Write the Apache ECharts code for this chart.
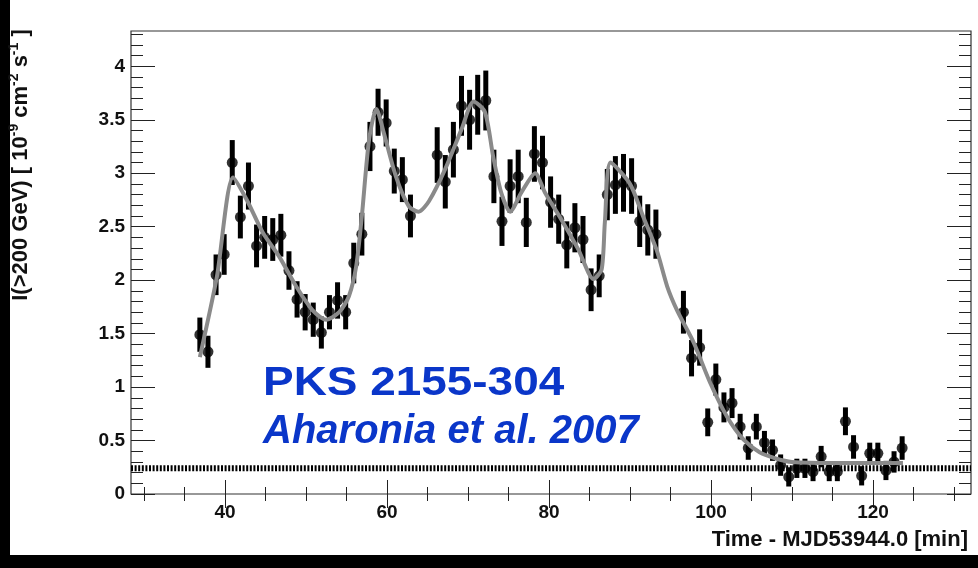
<!DOCTYPE html>
<html>
<head>
<meta charset="utf-8">
<script src="https://cdn.jsdelivr.net/npm/echarts@6/dist/echarts.min.js"></script>
<style>
  html, body { margin: 0; padding: 0; background: #000; }
  #panel { position: absolute; left: 10px; top: 0px; width: 968px; height: 555px; background: #fff; }
  #chart { position: absolute; left: 0; top: 0; width: 978px; height: 568px; }
</style>
</head>
<body>
<div id="panel"></div>
<div id="chart"></div>
<script>
// ---- data ----
const timeMin = [
  36.9, 37.9, 38.9, 39.9, 40.9, 41.9, 42.9, 43.9, 44.9, 45.9, 46.9, 47.9, 48.9, 49.9,
  50.9, 51.9, 52.9, 53.9, 54.9, 55.9, 56.9, 57.9, 58.9, 59.9, 60.9, 61.9, 62.9,
  66.2, 67.2, 68.2, 69.2, 70.2, 71.2, 72.2, 73.2, 74.2, 75.2, 76.2, 77.2, 78.2, 79.2,
  80.2, 81.2, 82.2, 83.2, 84.2, 85.2, 86.2, 87.2, 88.2, 89.2, 90.2, 91.2, 92.2, 93.2,
  96.6, 97.6, 98.6, 99.6, 100.6, 101.6, 102.6, 103.6, 104.6, 105.6, 106.6, 107.6, 108.6, 109.6,
  110.6, 111.6, 112.6, 113.6, 114.6, 115.6, 116.6, 117.6, 118.6, 119.6, 120.6, 121.6, 122.6, 123.6
];
const flux = [
  1.49, 1.33, 2.05, 2.24, 3.10, 2.59, 2.88, 2.32, 2.40, 2.38, 2.42, 2.09, 1.82, 1.70,
  1.63, 1.51, 1.70, 1.81, 1.70, 2.16, 2.43, 3.25, 3.57, 3.47, 3.02, 2.94, 2.60,
  3.17, 2.92, 3.22, 3.63, 3.50, 3.64, 3.68, 2.97, 2.55, 2.88, 2.97, 2.54, 3.18, 3.10,
  2.73, 2.57, 2.33, 2.49, 2.38, 1.91, 2.04, 2.80, 2.89, 2.91, 2.88, 2.55, 2.47, 2.43,
  1.70, 1.27, 1.37, 0.67, 1.07, 0.81, 0.85, 0.63, 0.43, 0.63, 0.48, 0.41, 0.27, 0.16,
  0.24, 0.24, 0.21, 0.35, 0.21, 0.21, 0.68, 0.44, 0.17, 0.38, 0.38, 0.22, 0.30, 0.43
];
const fluxErr = [
  0.16, 0.15, 0.19, 0.19, 0.21, 0.20, 0.22, 0.20, 0.20, 0.20, 0.20, 0.18, 0.17, 0.17,
  0.16, 0.15, 0.16, 0.17, 0.16, 0.19, 0.20, 0.23, 0.22, 0.22, 0.21, 0.21, 0.20,
  0.26, 0.25, 0.26, 0.28, 0.28, 0.28, 0.28, 0.25, 0.23, 0.25, 0.25, 0.23, 0.26, 0.25,
  0.24, 0.23, 0.22, 0.23, 0.22, 0.20, 0.20, 0.24, 0.27, 0.27, 0.26, 0.24, 0.24, 0.23,
  0.20, 0.17, 0.17, 0.13, 0.15, 0.14, 0.14, 0.12, 0.11, 0.12, 0.11, 0.10, 0.10, 0.09,
  0.09, 0.09, 0.09, 0.10, 0.09, 0.09, 0.13, 0.11, 0.09, 0.10, 0.10, 0.09, 0.10, 0.11
];
const fitTime = [
  36.9, 39.0, 41.0, 42.7, 44.7, 46.7, 48.8, 50.8, 52.5, 54.1, 55.3, 56.2, 56.9, 57.8,
  58.7, 59.6, 61.1, 62.7, 63.9, 65.2, 67.2, 69.2, 70.7, 72.1, 73.1, 74.1, 75.2, 76.6,
  78.3, 79.5, 81.5, 83.6, 85.5, 86.5, 86.9, 87.6, 90.0, 91.6, 93.3, 94.6, 95.8, 97.9,
  99.9, 102.0, 104.0, 106.0, 108.1, 110.0, 115.0, 123.7
];
const fitFlux = [
  1.28, 2.03, 2.96, 2.75, 2.44, 2.22, 1.94, 1.72, 1.63, 1.70, 1.85, 2.13, 2.60, 3.32,
  3.60, 3.38, 2.97, 2.69, 2.64, 2.74, 3.04, 3.41, 3.67, 3.57, 3.16, 2.82, 2.64, 2.82,
  3.00, 2.82, 2.57, 2.29, 2.01, 2.10, 2.54, 3.10, 2.90, 2.60, 2.28, 1.94, 1.72, 1.41,
  1.04, 0.72, 0.51, 0.39, 0.33, 0.30, 0.29, 0.29
];
const baselineLevel = 0.24;
const xMajorTicks = [40, 60, 80, 100, 120];
const xMinorTicks = [30, 35, 45, 50, 55, 65, 70, 75, 85, 90, 95, 105, 110, 115, 125, 130];
const yMajorTicks = [0, 0.5, 1, 1.5, 2, 2.5, 3, 3.5, 4];
const yMinorTicks = [0.1, 0.2, 0.3, 0.4, 0.6, 0.7, 0.8, 0.9, 1.1, 1.2, 1.3, 1.4, 1.6, 1.7, 1.8, 1.9,
  2.1, 2.2, 2.3, 2.4, 2.6, 2.7, 2.8, 2.9, 3.1, 3.2, 3.3, 3.4, 3.6, 3.7, 3.8, 3.9, 4.1, 4.2, 4.3];
const xMin = 28.4, xMax = 132.1, yMin = 0, yMax = 4.33;

// ---- chart ----
const FONT = '"Liberation Sans", Arial, sans-serif';
const tickColor = '#222';

function xAxisDef(position, ticks, len, withLabels) {
  return {
    type: 'value', min: xMin, max: xMax, position: position,
    axisLine: { show: false }, splitLine: { show: false },
    axisTick: { show: true, inside: true, length: len, customValues: ticks,
                lineStyle: { color: tickColor, width: 1 } },
    axisLabel: withLabels ? {
      show: true, customValues: ticks, margin: 9, color: '#111',
      fontFamily: FONT, fontSize: 19, fontWeight: 'bold'
    } : { show: false }
  };
}
function yAxisDef(position, ticks, len, withLabels) {
  return {
    type: 'value', min: yMin, max: yMax, position: position,
    axisLine: { show: false }, splitLine: { show: false },
    axisTick: { show: true, inside: true, length: len, customValues: ticks,
                lineStyle: { color: tickColor, width: 1 } },
    axisLabel: withLabels ? {
      show: true, customValues: ticks, margin: 6, color: '#111',
      fontFamily: FONT, fontSize: 19, fontWeight: 'bold'
    } : { show: false }
  };
}

const chart = echarts.init(document.getElementById('chart'), null, { renderer: 'canvas' });
chart.setOption({
  animation: false,
  backgroundColor: 'transparent',
  grid: { left: 131, right: 7, top: 31, bottom: 74, show: true,
          borderColor: '#333', borderWidth: 1.2, backgroundColor: '#fff' },
  xAxis: [
    xAxisDef('bottom', xMajorTicks, 14, true),
    xAxisDef('bottom', xMinorTicks, 7, false),
    xAxisDef('top', xMajorTicks, 14, false),
    xAxisDef('top', xMinorTicks, 7, false)
  ],
  yAxis: [
    yAxisDef('left', yMajorTicks, 24, true),
    yAxisDef('left', yMinorTicks, 12, false),
    yAxisDef('right', yMajorTicks, 24, false),
    yAxisDef('right', yMinorTicks, 12, false)
  ],
  series: [
    {
      type: 'line', xAxisIndex: 0, yAxisIndex: 0, z: 2,
      data: [[xMin, baselineLevel], [xMax, baselineLevel]],
      showSymbol: false, silent: true,
      lineStyle: { color: '#000', width: 6, type: [2, 1.6] }
    },
    {
      type: 'custom', xAxisIndex: 0, yAxisIndex: 0, z: 3,
      data: timeMin.map((t, i) => [t, flux[i] - fluxErr[i], flux[i] + fluxErr[i]]),
      renderItem: function (params, api) {
        const lo = api.coord([api.value(0), api.value(1)]);
        const hi = api.coord([api.value(0), api.value(2)]);
        return { type: 'line', shape: { x1: lo[0], y1: lo[1], x2: hi[0], y2: hi[1] },
                 style: { stroke: '#000', lineWidth: 5 } };
      }
    },
    {
      type: 'scatter', xAxisIndex: 0, yAxisIndex: 0, z: 4,
      data: timeMin.map((t, i) => [t, flux[i]]),
      symbol: 'circle', symbolSize: 11,
      itemStyle: { color: '#000' }
    },
    {
      type: 'line', xAxisIndex: 0, yAxisIndex: 0, z: 5,
      data: fitTime.map((t, i) => [t, fitFlux[i]]),
      smooth: 0.25, showSymbol: false,
      lineStyle: { color: '#8a8a8a', width: 4 }
    }
  ],
  graphic: [
    {
      type: 'text', x: 21, y: 165, rotation: Math.PI / 2,
      style: {
        text: '{a|I(>200 GeV) [ 10}{s|-9}{a| cm}{s|-2}{a| s}{s|-1}{a| ]}',
        align: 'center', verticalAlign: 'middle',
        rich: {
          a: { fontFamily: FONT, fontSize: 22, fontWeight: 'bold', fill: '#111', lineHeight: 27 },
          s: { fontFamily: FONT, fontSize: 14, fontWeight: 'bold', fill: '#111', verticalAlign: 'top', lineHeight: 27 }
        }
      }
    },
    {
      type: 'text', x: 968, y: 540,
      style: { text: 'Time - MJD53944.0 [min]', align: 'right', verticalAlign: 'middle',
               fontFamily: FONT, fontSize: 22, fontWeight: 'bold', fill: '#111' }
    },
    {
      type: 'text', x: 263, y: 384, scaleX: 1.12,
      style: { text: 'PKS 2155-304', align: 'left', verticalAlign: 'middle',
               fontFamily: FONT, fontSize: 41, fontWeight: 'bold', fill: '#0a36c9' }
    },
    {
      type: 'text', x: 263, y: 432,
      style: { text: 'Aharonia et al. 2007', align: 'left', verticalAlign: 'middle',
               fontFamily: FONT, fontSize: 40, fontWeight: 'bold', fontStyle: 'italic', fill: '#0a36c9' }
    }
  ]
});
</script>
</body>
</html>
